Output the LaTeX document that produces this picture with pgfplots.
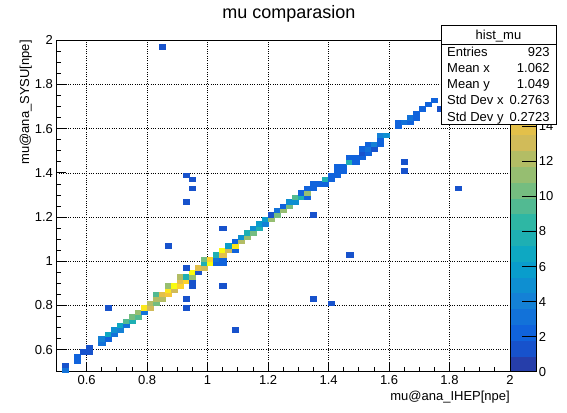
\documentclass[border=0pt]{standalone}
\usepackage{fontspec}
\setmainfont{Liberation Sans}
\usepackage{pgfplots}
\usepackage{pgfplotstable}
\pgfplotsset{compat=1.18}
\pgfdeclareplotmark{binrect}{\pgfsetlinewidth{0.5bp}\pgfpathrectangle{\pgfpoint{-3.03bp}{-2.21bp}}{\pgfpoint{6.06bp}{4.42bp}}\pgfusepathqfillstroke}
\pgfplotstableread{
x y c
0.53 0.51 3
0.53 0.53 1
0.57 0.55 2
0.57 0.57 2
0.59 0.59 1
0.61 0.59 1
0.61 0.61 1
0.65 0.63 3
0.65 0.65 4
0.67 0.65 2
0.67 0.67 7
0.69 0.67 3
0.69 0.69 5
0.71 0.69 4
0.71 0.71 7
0.73 0.71 3
0.73 0.73 9
0.75 0.73 8
0.75 0.75 10
0.77 0.75 9
0.77 0.77 11
0.79 0.77 3
0.79 0.79 17
0.81 0.79 13
0.81 0.81 12
0.83 0.81 10
0.83 0.83 12
0.83 0.85 9
0.85 0.83 12
0.85 0.85 14
0.87 0.85 15
0.87 0.87 17
0.87 0.89 11
0.89 0.87 13
0.89 0.89 18
0.91 0.89 16
0.91 0.91 14
0.91 0.93 12
0.93 0.91 16
0.93 0.93 8
0.95 0.89 1
0.95 0.91 1
0.95 0.93 11
0.95 0.95 18
0.97 0.95 1
0.97 0.97 14
0.99 0.97 13
0.99 0.99 8
0.99 1.01 10
1.01 0.99 18
1.01 1.01 16
1.03 0.99 2
1.03 1.01 3
1.03 1.03 8
1.05 0.99 2
1.05 1.01 2
1.05 1.03 14
1.05 1.05 18
1.07 1.05 13
1.07 1.07 6
1.09 1.05 2
1.09 1.07 17
1.09 1.09 2
1.11 1.09 12
1.11 1.11 5
1.13 1.11 11
1.13 1.13 8
1.15 1.13 10
1.15 1.15 5
1.17 1.15 8
1.17 1.17 6
1.19 1.17 4
1.19 1.19 6
1.21 1.19 11
1.21 1.21 1
1.23 1.21 10
1.23 1.23 3
1.25 1.23 11
1.25 1.25 2
1.27 1.25 10
1.27 1.27 5
1.29 1.27 5
1.29 1.29 9
1.31 1.29 8
1.31 1.31 2
1.33 1.29 2
1.33 1.31 11
1.33 1.33 2
1.35 1.33 2
1.35 1.35 2
1.37 1.35 2
1.39 1.35 2
1.39 1.37 8
1.41 1.37 2
1.41 1.39 2
1.43 1.39 2
1.43 1.41 2
1.43 1.43 2
1.45 1.41 2
1.45 1.43 2
1.47 1.45 8
1.47 1.47 2
1.49 1.45 2
1.49 1.47 2
1.51 1.47 2
1.51 1.49 1
1.51 1.51 2
1.53 1.49 2
1.53 1.51 3
1.53 1.53 2
1.55 1.51 1
1.55 1.53 4
1.57 1.53 2
1.57 1.55 2
1.57 1.57 4
1.59 1.57 5
1.63 1.61 2
1.63 1.63 2
1.65 1.63 3
1.67 1.63 2
1.67 1.65 3
1.69 1.65 2
1.69 1.67 2
1.71 1.69 2
1.73 1.71 2
1.75 1.73 2
1.77 1.69 1
0.85 1.97 1
0.93 1.39 1
0.95 1.37 1
0.95 1.33 1
0.93 1.27 1
1.35 1.21 1
1.05 1.15 1
0.87 1.07 1
1.47 1.03 1
0.93 0.97 1
1.05 0.89 1
0.93 0.83 1
0.93 0.79 1
0.67 0.79 1
1.35 0.83 1
1.41 0.81 1
1.09 0.69 1
1.65 1.45 1
1.65 1.41 1
1.83 1.33 1
}\histdata
\begin{document}
\begin{tikzpicture}
\begin{axis}[
  at={(56.4bp,41.2bp)}, anchor=south west,
  width=453.6bp, height=331.5bp, scale only axis,
  xmin=0.5, xmax=2, ymin=0.5, ymax=2,
  xtick={0.6,0.8,1,1.2,1.4,1.6,1.8,2},
  ytick={0.6,0.8,1,1.2,1.4,1.6,1.8,2},
  minor x tick num=3, minor y tick num=3,
  tick align=inside, xtick pos=left, ytick pos=left,
  major tick length=10bp, minor tick length=5bp,
  grid=major,
  major grid style={black, line width=0.6bp, dash pattern=on 1bp off 1.3bp},
  axis line style={black, line width=0.8bp},
  tick style={black, line width=0.8bp},
  /pgf/number format/assume math mode=true,
  ticklabel style={font=\fontsize{13bp}{15bp}\selectfont},
  colormap={bird}{
    rgb=(0.1486,0.2438,0.6649) rgb=(0.0890,0.3212,0.8006) rgb=(0.0630,0.3887,0.8624)
    rgb=(0.0705,0.4464,0.8505) rgb=(0.0780,0.5041,0.8385) rgb=(0.0561,0.5592,0.8197)
    rgb=(0.0342,0.6143,0.8008) rgb=(0.0546,0.6571,0.7616) rgb=(0.1174,0.6874,0.7021)
    rgb=(0.1802,0.7178,0.6425) rgb=(0.3202,0.7304,0.5720) rgb=(0.4601,0.7429,0.5015)
    rgb=(0.5878,0.7459,0.4429) rgb=(0.7032,0.7394,0.3964) rgb=(0.8186,0.7328,0.3499)
    rgb=(0.8894,0.7542,0.2887) rgb=(0.9602,0.7755,0.2274) rgb=(0.9918,0.8256,0.1682)
    rgb=(0.9841,0.9044,0.1111) rgb=(0.9764,0.9832,0.0539) rgb=(0.9764,0.9832,0.0539)
  },
  colormap access=piecewise constant,
  point meta min=0, point meta max=18.9,
  colorbar,
  colorbar style={
    at={(1,0)}, anchor=south west, xshift=2.7bp,
    width=26.3bp, height=331.5bp, scale only axis,
    ytick={0,2,4,6,8,10,12,14},
    ytick pos=right, yticklabel pos=right,
    tick align=inside, major tick length=14bp,
    axis line style={black, line width=0.8bp},
    tick style={black, line width=0.8bp},
    /pgf/number format/assume math mode=true,
    yticklabel style={font=\fontsize{13bp}{15bp}\selectfont, xshift=-1bp},
  },
]
\addplot[scatter, only marks, mark=binrect, point meta=explicit,
  scatter/use mapped color={draw=mapped color, fill=mapped color}]
  table[x=x, y=y, meta=c] {\histdata};
\end{axis}
\fontsize{13bp}{15bp}\selectfont
\node[anchor=base] at (289bp,394.7bp) {\fontsize{18bp}{20bp}\selectfont mu comparasion};
\node[anchor=base east, inner sep=0pt] at (510bp,13bp) {mu@ana\_IHEP[npe]};
\node[rotate=90, anchor=base east, inner sep=0pt] at (29bp,373bp) {mu@ana\_SYSU[npe]};
\draw[black, line width=0.8bp, fill=white] (441bp,289bp) rectangle (556bp,388bp);
\draw[black, line width=0.8bp] (441bp,369bp) -- (556bp,369bp);
\node[anchor=base, inner sep=0pt] at (498.5bp,373.4bp) {hist\_mu};
\node[anchor=base west, inner sep=0pt] at (447bp,356.8bp) {Entries};
\node[anchor=base west, inner sep=0pt] at (447bp,340.2bp) {Mean x};
\node[anchor=base west, inner sep=0pt] at (447bp,324.2bp) {Mean y};
\node[anchor=base west, inner sep=0pt] at (447bp,308.5bp) {Std Dev x};
\node[anchor=base west, inner sep=0pt] at (447bp,291.8bp) {Std Dev y};
\node[anchor=base east, inner sep=0pt] at (549.7bp,356.8bp) {923};
\node[anchor=base east, inner sep=0pt] at (549.7bp,340.2bp) {1.062};
\node[anchor=base east, inner sep=0pt] at (549.7bp,324.2bp) {1.049};
\node[anchor=base east, inner sep=0pt] at (549.7bp,308.5bp) {0.2763};
\node[anchor=base east, inner sep=0pt] at (549.7bp,291.8bp) {0.2723};
\pgfresetboundingbox
\useasboundingbox (0,0) rectangle (567bp,413bp);
\end{tikzpicture}
\end{document}
